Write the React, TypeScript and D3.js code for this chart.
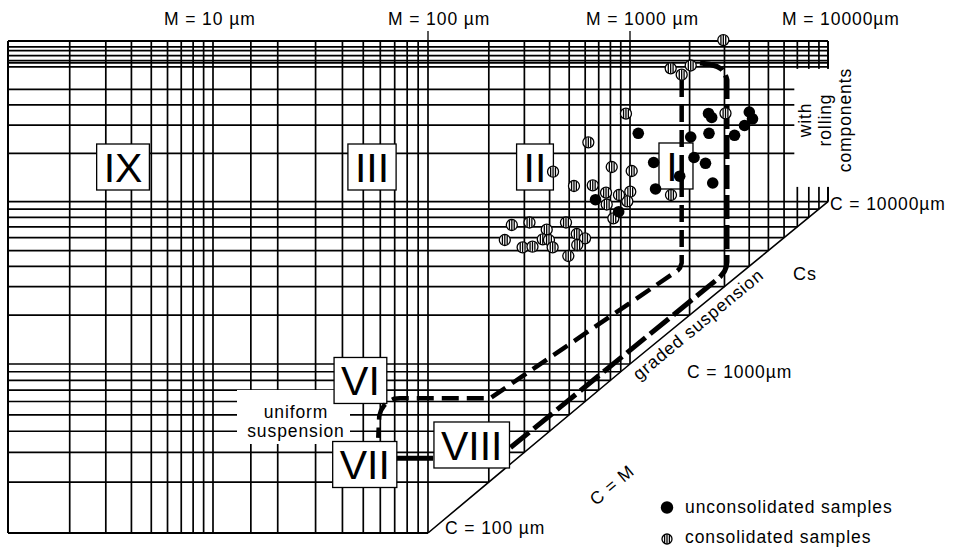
import React from 'react';
import * as d3 from 'd3';

// ---------- data ----------
const mDecades = [1, 10, 100, 1000, 10000];
const cDecades = [100, 1000, 10000, 100000];

const mGridValues = [2, 3, 4, 5, 6, 7, 8, 9, 10, 15, 20, 30, 40, 50, 60, 70, 80, 90, 100,
  200, 300, 400, 500, 600, 700, 800, 900, 1000, 2000, 3000, 4000, 5000, 6000, 7000, 8000, 9000];
const cGridValues = [200, 300, 400, 500, 600, 700, 800, 900, 1000, 2000, 3000, 4000, 5000, 6000,
  7000, 8000, 9000, 10000, 20000, 30000, 40000, 50000, 69000, 73000, 75500, 81000, 87000, 92000];

const topLabels = ['M = 10 µm', 'M = 100 µm', 'M = 1000 µm', 'M = 10000µm'];
const topLabelM = [10, 100, 1000, 10000];

const unconsolidatedM = [1101, 2492, 2586, 4004, 4156, 3787, 2506, 2026, 3372, 1317, 2105, 2406, 1782, 1346, 2617, 675, 879];
const unconsolidatedC = [26650, 35400, 33420, 36150, 32810, 29800, 26650, 25270, 25900, 17540, 18840, 17340, 14410, 12000, 13070, 10290, 8678];

const consolidatedM = [2960, 1605, 2026, 1824, 955, 3036, 622, 416, 812, 1020, 528, 654, 761, 1003, 970, 882, 767, 827, 1611,
  260, 318, 387, 482, 240, 294, 329, 370, 397, 414, 545, 599, 548, 495];
const consolidatedC = [101400, 67600, 70400, 61700, 35300, 35500, 23420, 15370, 16440, 15530, 12520, 12650, 11380, 11540, 10060, 11010, 9610, 7900, 11010,
  7185, 7445, 6723, 7445, 5808, 5236, 5281, 5867, 5808, 5236, 6324, 5950, 5411, 4630];

const zoneLabels = ['IX', 'III', 'II', 'I', 'VI', 'VII', 'VIII'];
const zoneM = [3.64, 54.9, 338.6, 1707, 48.5, 50.8, 164.6];
const zoneC = [16440, 16440, 16440, 16680, 799, 254.3, 331.7];

// boundary curves [M, C]
const innerCurve: [number, number][] = [
  [1824, 57200], [1824, 4192], [1790, 3920], [1740, 3760], [1668, 3636], [202.8, 626.6], [74.1, 626.6],
  [69.5, 622], [65.8, 601], [62.6, 570], [60.4, 530], [59.3, 490], [58.7, 365],
];
const outerCurve: [number, number][] = [
  [2257, 72950], [2540, 71600], [2750, 69400], [2900, 66800], [3010, 62500], [3070, 59000], [3090, 57200],
  [3090, 4250], [3060, 3960], [3000, 3720], [2848, 3436], [254.6, 318.4],
];
const solidLink: [number, number][] = [[71.7, 276.7], [105.9, 276.7]];

const legendLabels = ['unconsolidated samples', 'consolidated samples'];

// ---------- layout ----------
const W = 956, H = 548;
const xRange = [8, 213, 428, 630, 828];
const yRange = [533, 364, 201.7, 41];
const FONT = "'Liberation Sans', Arial, Helvetica, sans-serif";
const txt = { fontFamily: FONT, fontSize: 17.5, letterSpacing: 0.9, fill: '#000' } as const;
const topLabelDx = [-49, -40, -44, -46];
const zoneTextDx = [0, 0, 0, -4, 0, 0, 0];

function Hatched({ cx, cy, r }: { cx: number; cy: number; r: number }) {
  const bars = [-2.4, 0, 2.4];
  return (
    <g>
      <circle cx={cx} cy={cy} r={r} fill="#fff" stroke="#000" strokeWidth={1.3} />
      {bars.map((dx, i) => {
        const h = Math.sqrt(r * r - dx * dx) - 0.4;
        return <line key={i} x1={cx + dx} x2={cx + dx} y1={cy - h} y2={cy + h} stroke="#000" strokeWidth={1.3} />;
      })}
    </g>
  );
}

export default function App() {
  React.useEffect(() => {
    document.body.style.margin = '0';
  }, []);

  const x = d3.scaleLog().domain(mDecades).range(xRange);
  const y = d3.scaleLog().domain(cDecades).range(yRange);

  const mMin = mDecades[0], mMax = mDecades[mDecades.length - 1];
  const cMin = cDecades[0], cMax = cDecades[cDecades.length - 1];

  const vEnd = (m: number) => (m <= cMin ? y(cMin) : y(Math.min(m, 10000)));
  const hEnd = (c: number) => (c <= 10000 ? x(c) : x(mMax));

  const line = d3.line<[number, number]>()
    .x(d => x(d[0]))
    .y(d => y(d[1]));

  const gridStroke = 1.7;

  const zoneFont = 41;
  const glyphW: Record<string, number> = { I: 0.278, V: 0.667, X: 0.667 };

  return (
    <svg width={W} height={H} style={{ position: 'absolute', left: 0, top: 0, background: '#fff' }}>
      <rect x={0} y={0} width={W} height={H} fill="#fff" />
      {/* vertical grid */}
      {mGridValues.map(m => (
        <line key={'v' + m} x1={x(m)} x2={x(m)} y1={y(cMax)} y2={vEnd(m)} stroke="#000" strokeWidth={gridStroke} />
      ))}
      {/* horizontal grid */}
      {cGridValues.map(c => (
        <line key={'h' + c} x1={x(mMin)} x2={hEnd(c)} y1={y(c)} y2={y(c)} stroke="#000" strokeWidth={gridStroke} />
      ))}
      {/* ticks above top for 100 and 1000 */}
      {[100, 1000].map(m => (
        <line key={'t' + m} x1={x(m)} x2={x(m)} y1={y(cMax) - 10} y2={y(cMax)} stroke="#000" strokeWidth={1.3} />
      ))}
      {/* frame */}
      <g stroke="#000" strokeWidth={2} fill="none">
        <line x1={x(mMin)} x2={x(mMax)} y1={y(cMax)} y2={y(cMax)} />
        <line x1={x(mMin)} x2={x(mMin)} y1={y(cMax)} y2={y(cMin)} />
        <line x1={x(mMin)} x2={x(cMin)} y1={y(cMin)} y2={y(cMin)} />
        <line x1={x(mMax)} x2={x(mMax)} y1={y(cMax)} y2={y(10000)} />
        <path d={d3.line<number>().x(v => x(v)).y(v => y(v))([100, 1000, 10000]) || ''} strokeWidth={1.6} />
      </g>

      {/* white label backgrounds */}
      <rect x={x(mMin) + 229} y={y(1000) + 26} width={113} height={54} fill="#fff" />
      <rect x={x(7000) - 3} y={y(70000) + 3} width={62} height={118} fill="#fff" />

      {/* zone boxes */}
      {zoneLabels.map((lab, i) => {
        const tw = lab.split('').reduce((s, ch) => s + glyphW[ch] * zoneFont, 0);
        const bw = Math.max(34, tw + 14);
        const bh = 46;
        const cx = x(zoneM[i]);
        const cy = y(zoneC[i]);
        return (
          <g key={lab}>
            <rect x={cx - bw / 2} y={cy - bh / 2} width={bw} height={bh} fill="#fff" stroke="#000" strokeWidth={1.3} />
            <text x={cx + zoneTextDx[i]} y={cy + 14.8} textAnchor="middle" fontFamily={FONT} fontSize={zoneFont}>{lab}</text>
          </g>
        );
      })}

      {/* boundary lines */}
      <path d={line(outerCurve) || ''} fill="none" stroke="#000" strokeWidth={5} strokeDasharray="24 6" strokeLinejoin="round" />
      <path d={line(innerCurve) || ''} fill="none" stroke="#000" strokeWidth={4.5} strokeDasharray="17 8" strokeLinejoin="round" />
      <path d={line(solidLink) || ''} fill="none" stroke="#000" strokeWidth={5} />

      {/* points */}
      {consolidatedM.map((m, i) => (
        <Hatched key={'c' + i} cx={x(m)} cy={y(consolidatedC[i])} r={5.5} />
      ))}
      {unconsolidatedM.map((m, i) => (
        <circle key={'u' + i} cx={x(m)} cy={y(unconsolidatedC[i])} r={5.8} fill="#000" />
      ))}

      {/* top labels */}
      {topLabels.map((t, i) => (
        <text key={t} x={x(topLabelM[i]) + topLabelDx[i]} y={24.5} {...txt}>{t}</text>
      ))}

      {/* C labels */}
      <text x={x(10000) + 2} y={y(10000) + 8.5} {...txt}>C = 10000µm</text>
      <text x={x(1000) + 57} y={y(1000) + 14} {...txt}>C = 1000µm</text>
      <text x={x(100) + 17} y={y(100) + 1} {...txt}>C = 100 µm</text>
      <text x={x(10000) - 35} y={y(1000) - 84} {...txt} fontSize={18}>Cs</text>
      <text transform={`translate(612,485) rotate(-40)`} textAnchor="middle" dominantBaseline="central" {...txt}>C = M</text>
      <text transform={`translate(702,329) rotate(-39.5)`} textAnchor="middle" {...txt}>graded suspension</text>

      {/* uniform suspension */}
      <text x={296} y={417.5} textAnchor="middle" {...txt}>uniform</text>
      <text x={296} y={436.5} textAnchor="middle" {...txt}>suspension</text>

      {/* with rolling components */}
      {['with', 'rolling', 'components'].map((t, i) => (
        <text key={t} transform={`translate(${811 + i * 20},120) rotate(-90)`} textAnchor="middle" {...txt}>{t}</text>
      ))}

      {/* legend */}
      <circle cx={667} cy={507.5} r={6.2} fill="#000" />
      <Hatched cx={667} cy={539} r={5} />
      <text x={685} y={512.5} {...txt}>{legendLabels[0]}</text>
      <text x={685} y={543} {...txt}>{legendLabels[1]}</text>
    </svg>
  );
}
